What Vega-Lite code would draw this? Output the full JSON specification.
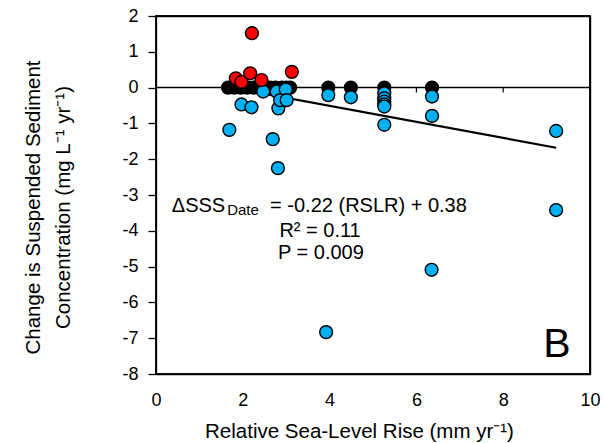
{
  "$schema": "https://vega.github.io/schema/vega-lite/v6.json",
  "autosize": {"type": "none"},
  "padding": {"left": 156, "top": 16, "right": 15, "bottom": 69},
  "width": 434,
  "height": 358,
  "background": "white",
  "config": {
    "view": {"stroke": "black", "strokeWidth": 1.5},
    "font": "Liberation Sans",
    "axis": {"grid": false, "domainColor": "black", "domainWidth": 1.3, "labelColor": "black", "titleColor": "black", "labelFont": "Liberation Sans", "titleFont": "Liberation Sans", "titleFontWeight": "normal", "labelFontSize": 18, "titleFontSize": 20.5, "labelOverlap": false, "labelFlush": false, "labelSeparation": -200}
  },
  "resolve": {"axis": {"x": "independent", "y": "independent"}},
  "datasets": {
    "pts": [
      {"rslr": 1.66, "dsss": 0.0, "group": "black"},
      {"rslr": 1.8, "dsss": 0.0, "group": "black"},
      {"rslr": 1.95, "dsss": 0.0, "group": "black"},
      {"rslr": 2.1, "dsss": 0.0, "group": "black"},
      {"rslr": 2.25, "dsss": 0.0, "group": "black"},
      {"rslr": 2.4, "dsss": 0.0, "group": "black"},
      {"rslr": 2.55, "dsss": 0.0, "group": "black"},
      {"rslr": 2.63, "dsss": 0.0, "group": "black"},
      {"rslr": 2.75, "dsss": 0.0, "group": "black"},
      {"rslr": 2.9, "dsss": 0.0, "group": "black"},
      {"rslr": 3.0, "dsss": 0.0, "group": "black"},
      {"rslr": 3.09, "dsss": 0.0, "group": "black"},
      {"rslr": 3.97, "dsss": 0.0, "group": "black"},
      {"rslr": 4.49, "dsss": 0.0, "group": "black"},
      {"rslr": 5.26, "dsss": 0.0, "group": "black"},
      {"rslr": 6.36, "dsss": 0.0, "group": "black"},
      {"rslr": 1.69, "dsss": -1.18, "group": "blue"},
      {"rslr": 1.97, "dsss": -0.47, "group": "blue"},
      {"rslr": 2.2, "dsss": -0.55, "group": "blue"},
      {"rslr": 2.47, "dsss": -0.11, "group": "blue"},
      {"rslr": 2.69, "dsss": -1.44, "group": "blue"},
      {"rslr": 2.78, "dsss": -0.11, "group": "blue"},
      {"rslr": 2.82, "dsss": -0.58, "group": "blue"},
      {"rslr": 2.86, "dsss": -0.35, "group": "blue"},
      {"rslr": 2.99, "dsss": -0.05, "group": "blue"},
      {"rslr": 3.01, "dsss": -0.35, "group": "blue"},
      {"rslr": 2.81, "dsss": -2.25, "group": "blue"},
      {"rslr": 3.97, "dsss": -0.21, "group": "blue"},
      {"rslr": 4.49, "dsss": -0.27, "group": "blue"},
      {"rslr": 5.26, "dsss": -0.16, "group": "blue"},
      {"rslr": 5.26, "dsss": -0.3, "group": "blue"},
      {"rslr": 5.26, "dsss": -0.39, "group": "blue"},
      {"rslr": 5.26, "dsss": -0.47, "group": "blue"},
      {"rslr": 5.26, "dsss": -0.53, "group": "blue"},
      {"rslr": 5.26, "dsss": -1.04, "group": "blue"},
      {"rslr": 6.36, "dsss": -0.25, "group": "blue"},
      {"rslr": 6.36, "dsss": -0.79, "group": "blue"},
      {"rslr": 6.35, "dsss": -5.09, "group": "blue"},
      {"rslr": 9.22, "dsss": -1.21, "group": "blue"},
      {"rslr": 9.22, "dsss": -3.42, "group": "blue"},
      {"rslr": 3.92, "dsss": -6.83, "group": "blue"},
      {"rslr": 1.84, "dsss": 0.26, "group": "red"},
      {"rslr": 1.97, "dsss": 0.16, "group": "red"},
      {"rslr": 2.17, "dsss": 0.4, "group": "red"},
      {"rslr": 2.21, "dsss": 1.52, "group": "red"},
      {"rslr": 2.43, "dsss": 0.21, "group": "red"},
      {"rslr": 3.13, "dsss": 0.44, "group": "red"}
    ],
    "fit": [
      {"rslr": 1.66, "dsss": 0.015},
      {"rslr": 9.22, "dsss": -1.68}
    ],
    "zticks": [{"rslr": 2}, {"rslr": 4}, {"rslr": 6}, {"rslr": 8}],
    "one": [{"k": 1}],
    "notes": [
      {"rslr": 0.979, "dsss": -3.466, "txt": "ΔSSS"},
      {"rslr": 4.896, "dsss": -3.466, "txt": "= -0.22 (RSLR)  + 0.38"},
      {"rslr": 3.78, "dsss": -4.165, "txt": "R² = 0.11"},
      {"rslr": 3.8, "dsss": -4.788, "txt": "P = 0.009"}
    ],
    "sub": [{"rslr": 2.005, "dsss": -3.545, "txt": "Date"}],
    "panel": [{"rslr": 9.24, "dsss": -7.52, "txt": "B"}]
  },
  "layer": [
    {
      "data": {"name": "one"},
      "mark": {"type": "rect", "fill": null, "fillOpacity": 0, "stroke": "#000000", "strokeWidth": 1.5, "clip": false},
      "encoding": {
        "x": {"datum": 0, "type": "quantitative", "scale": {"domain": [0, 10], "nice": false},
          "axis": {"orient": "top", "labels": false, "ticks": false, "title": null, "domain": true, "domainColor": "black", "domainWidth": 1.4}},
        "x2": {"datum": 10},
        "y": {"datum": -8, "type": "quantitative", "scale": {"domain": [-8, 2], "nice": false},
          "axis": {"orient": "right", "labels": false, "ticks": false, "title": null, "domain": true, "domainColor": "black", "domainWidth": 1.4}},
        "y2": {"datum": 2}
      }
    },
    {
      "data": {"name": "one"},
      "mark": {"type": "rule", "color": "black", "strokeWidth": 1.5},
      "encoding": {
        "x": {"datum": 0, "type": "quantitative", "axis": null},
        "x2": {"datum": 10},
        "y": {"datum": 0, "type": "quantitative", "axis": null}
      }
    },
    {
      "data": {"name": "zticks"},
      "mark": {"type": "rule", "color": "black", "strokeWidth": 1.2},
      "encoding": {
        "x": {"field": "rslr", "type": "quantitative", "axis": null},
        "y": {"datum": 0, "type": "quantitative", "axis": null},
        "y2": {"datum": -0.14}
      }
    },
    {
      "data": {"name": "fit"},
      "mark": {"type": "line", "color": "black", "strokeWidth": 2.2},
      "encoding": {
        "x": {"field": "rslr", "type": "quantitative", "axis": null},
        "y": {"field": "dsss", "type": "quantitative", "axis": null}
      }
    },
    {
      "data": {"name": "pts"},
      "mark": {"type": "point", "filled": true, "shape": "circle", "size": 165, "stroke": "black", "strokeWidth": 1.4, "opacity": 1},
      "encoding": {
        "x": {"field": "rslr", "type": "quantitative",
          "scale": {"domain": [0, 10], "nice": false},
          "axis": {"values": [0, 2, 4, 6, 8, 10], "ticks": false, "tickSize": 0, "labelPadding": 17, "labelOverlap": false, "labelFlush": false, "title": "Relative Sea-Level Rise (mm yr⁻¹)", "titleX": 203, "titleY": 63, "titleBaseline": "alphabetic", "titleAlign": "center"}},
        "y": {"field": "dsss", "type": "quantitative",
          "scale": {"domain": [-8, 2], "nice": false},
          "axis": {"values": [-8, -7, -6, -5, -4, -3, -2, -1, 0, 1, 2], "labelOverlap": false, "labelFlush": false, "labelExpr": "toString(datum.value)", "tickSize": 8, "tickColor": "black", "tickWidth": 1.3, "labelPadding": 10, "title": ["Change is Suspended Sediment", "Concentration (mg L⁻¹ yr⁻¹)"], "titleX": -123, "titleY": 191, "titleBaseline": "middle", "titleAlign": "center", "titleAngle": -90, "titleLineHeight": 30}},
        "fill": {"field": "group", "type": "nominal", "scale": {"domain": ["black", "blue", "red"], "range": ["#000000", "#00B0F0", "#FF0000"]}, "legend": null}
      }
    },
    {
      "data": {"name": "notes"},
      "mark": {"type": "text", "fontSize": 20, "font": "Liberation Sans", "color": "black", "align": "center", "baseline": "alphabetic"},
      "encoding": {
        "x": {"field": "rslr", "type": "quantitative", "axis": null},
        "y": {"field": "dsss", "type": "quantitative", "axis": null},
        "text": {"field": "txt"}
      }
    },
    {
      "data": {"name": "sub"},
      "mark": {"type": "text", "fontSize": 15, "font": "Liberation Sans", "color": "black", "align": "center", "baseline": "alphabetic"},
      "encoding": {
        "x": {"field": "rslr", "type": "quantitative", "axis": null},
        "y": {"field": "dsss", "type": "quantitative", "axis": null},
        "text": {"field": "txt"}
      }
    },
    {
      "data": {"name": "panel"},
      "mark": {"type": "text", "fontSize": 41, "font": "Liberation Sans", "color": "black", "align": "center", "baseline": "alphabetic"},
      "encoding": {
        "x": {"field": "rslr", "type": "quantitative", "axis": null},
        "y": {"field": "dsss", "type": "quantitative", "axis": null},
        "text": {"field": "txt"}
      }
    }
  ]
}
